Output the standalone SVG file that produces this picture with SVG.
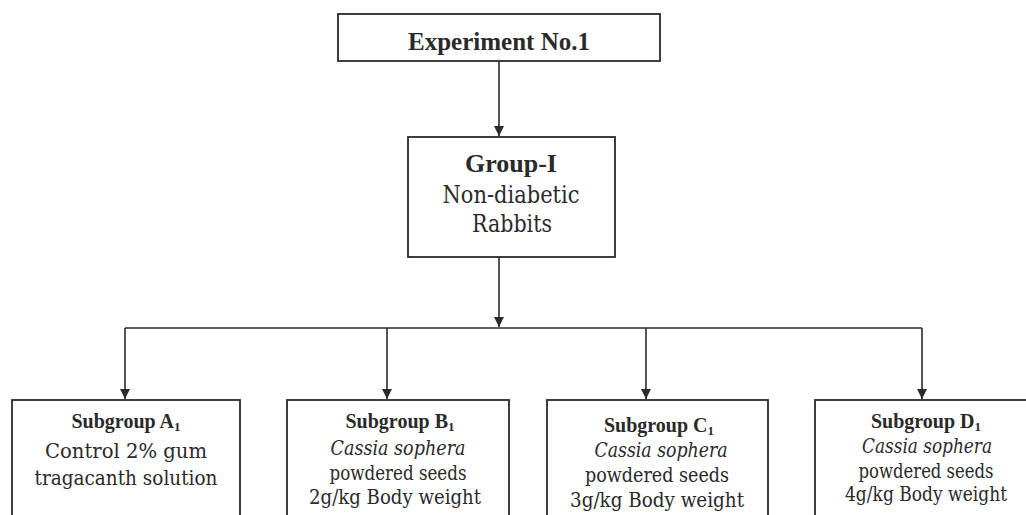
<svg xmlns="http://www.w3.org/2000/svg" width="1026" height="515" viewBox="0 0 1026 515">
  <style>
    .box { fill: #ffffff; stroke: #2b2b2b; stroke-width: 1.8; }
    .line { fill: none; stroke: #2b2b2b; stroke-width: 1.6; }
    text { fill: #2a2a2a; text-anchor: middle; }
    .title { font-family: "Liberation Serif", "Times New Roman", serif; font-size: 25px; font-weight: bold; }
    .head { font-family: "Liberation Serif", "Times New Roman", serif; font-size: 26px; font-weight: bold; }
    .sub { font-family: "Liberation Serif", "Times New Roman", serif; font-size: 20px; font-weight: bold; }
    .body { font-family: "DejaVu Serif", serif; font-stretch: condensed; font-size: 24px; }
    .txt { font-family: "DejaVu Serif", serif; font-stretch: condensed; font-size: 21px; }
    .it { font-style: italic; }
    .idx { font-size: 13px; }
  </style>
  <defs>
    <marker id="arrow" markerWidth="12" markerHeight="12" refX="10" refY="5" orient="auto" markerUnits="userSpaceOnUse">
      <path d="M0,0 L10,5 L0,10 Z" fill="#2b2b2b"/>
    </marker>
  </defs>
  <rect width="1026" height="515" fill="#ffffff"/>

  <g id="connectors">
    <line class="line" x1="499" y1="61" x2="499" y2="136" marker-end="url(#arrow)"/>
    <line class="line" x1="499" y1="257" x2="499" y2="327" marker-end="url(#arrow)"/>
    <line class="line" x1="125" y1="328" x2="922" y2="328"/>
    <line class="line" x1="125" y1="328" x2="125" y2="399" marker-end="url(#arrow)"/>
    <line class="line" x1="387" y1="328" x2="387" y2="399" marker-end="url(#arrow)"/>
    <line class="line" x1="646" y1="328" x2="646" y2="399" marker-end="url(#arrow)"/>
    <line class="line" x1="922" y1="328" x2="922" y2="399" marker-end="url(#arrow)"/>
  </g>

  <g id="experiment">
    <rect class="box" x="338" y="14" width="322" height="47"/>
    <text class="title" x="499" y="50">Experiment No.1</text>
  </g>

  <g id="group-1">
    <rect class="box" x="408" y="137" width="207" height="120"/>
    <text class="head" x="511" y="172">Group-I</text>
    <text class="body" x="511" y="203" textLength="137" lengthAdjust="spacingAndGlyphs">Non-diabetic</text>
    <text class="body" x="512" y="232" textLength="80" lengthAdjust="spacingAndGlyphs">Rabbits</text>
  </g>

  <g id="subgroup-a">
    <rect class="box" x="12" y="400" width="228" height="130"/>
    <text class="sub" x="126" y="428">Subgroup A<tspan class="idx" dy="3">1</tspan></text>
    <text class="txt" x="126" y="458" textLength="162" lengthAdjust="spacingAndGlyphs">Control 2% gum</text>
    <text class="txt" x="126" y="485" textLength="183" lengthAdjust="spacingAndGlyphs">tragacanth solution</text>
  </g>

  <g id="subgroup-b">
    <rect class="box" x="287" y="400" width="222" height="130"/>
    <text class="sub" x="400" y="428">Subgroup B<tspan class="idx" dy="3">1</tspan></text>
    <text class="txt it" x="398" y="455" textLength="135" lengthAdjust="spacingAndGlyphs">Cassia sophera</text>
    <text class="txt" x="398" y="480" textLength="137" lengthAdjust="spacingAndGlyphs">powdered seeds</text>
    <text class="txt" x="395" y="504" textLength="172" lengthAdjust="spacingAndGlyphs">2g/kg Body weight</text>
  </g>

  <g id="subgroup-c">
    <rect class="box" x="547" y="400" width="221" height="130"/>
    <text class="sub" x="659" y="432">Subgroup C<tspan class="idx" dy="3">1</tspan></text>
    <text class="txt it" x="661" y="457" textLength="133" lengthAdjust="spacingAndGlyphs">Cassia sophera</text>
    <text class="txt" x="657" y="482" textLength="144" lengthAdjust="spacingAndGlyphs">powdered seeds</text>
    <text class="txt" x="657" y="507" textLength="174" lengthAdjust="spacingAndGlyphs">3g/kg Body weight</text>
  </g>

  <g id="subgroup-d">
    <rect class="box" x="815" y="400" width="240" height="130"/>
    <text class="sub" x="926" y="428">Subgroup D<tspan class="idx" dy="3">1</tspan></text>
    <text class="txt it" x="927" y="453" textLength="130" lengthAdjust="spacingAndGlyphs">Cassia sophera</text>
    <text class="txt" x="926" y="478" textLength="135" lengthAdjust="spacingAndGlyphs">powdered seeds</text>
    <text class="txt" x="926" y="501" textLength="162" lengthAdjust="spacingAndGlyphs">4g/kg Body weight</text>
  </g>
</svg>
